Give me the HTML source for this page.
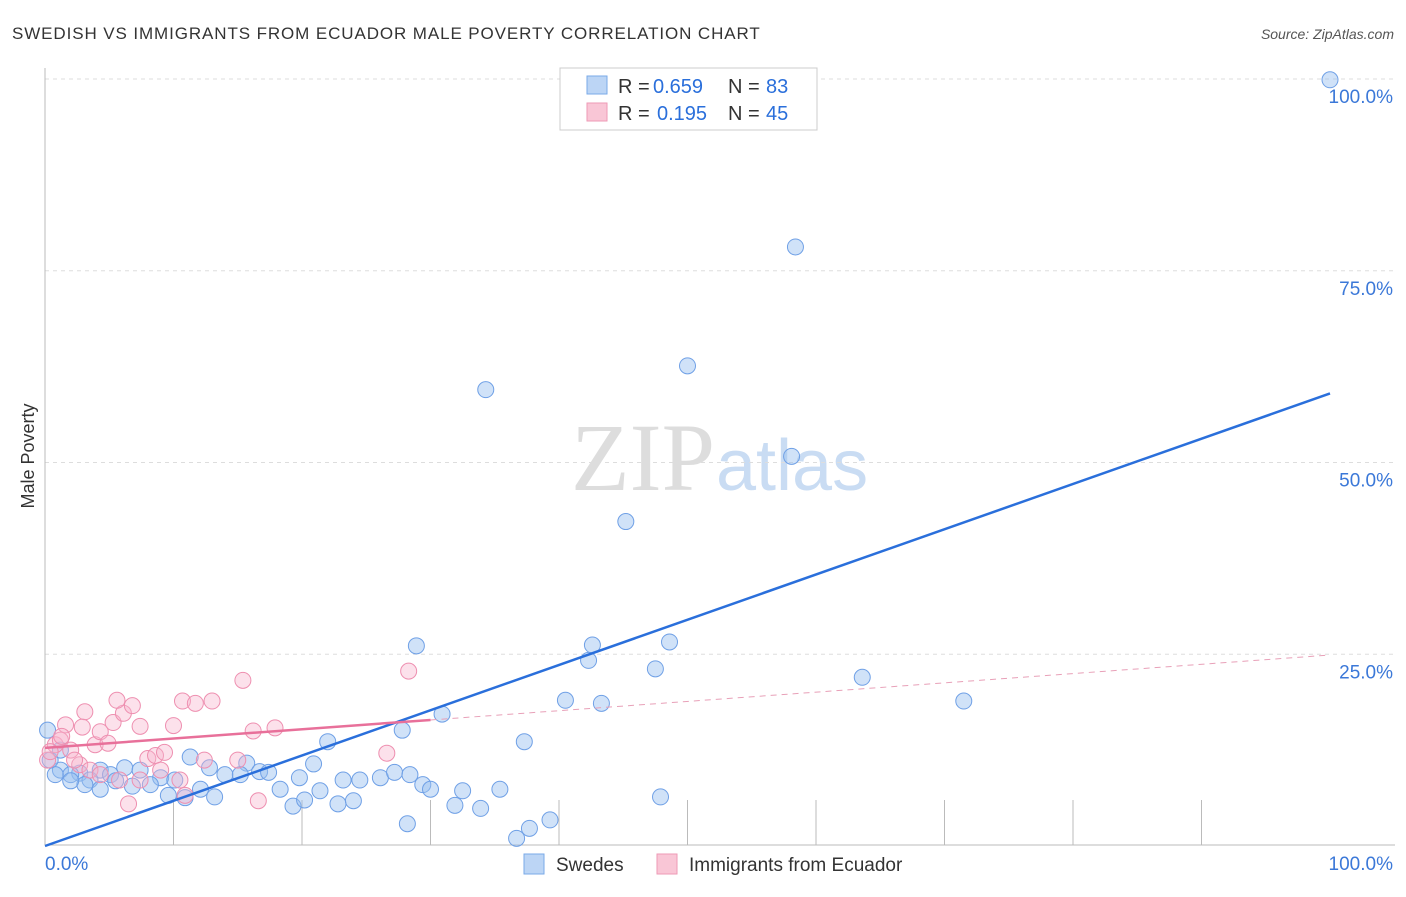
<!DOCTYPE html>
<html><head><meta charset="utf-8"><style>
body{margin:0;background:#fff;font-family:"Liberation Sans",sans-serif;}
</style></head><body>
<svg width="1406" height="892" xmlns="http://www.w3.org/2000/svg" font-family="Liberation Sans, sans-serif">
<text x="12" y="39" font-size="17" letter-spacing="0.9" fill="#333">SWEDISH VS IMMIGRANTS FROM ECUADOR MALE POVERTY CORRELATION CHART</text>
<text x="1394" y="39" font-size="14" fill="#555" text-anchor="end" font-style="italic">Source: ZipAtlas.com</text>
<text x="715" y="490" font-size="96" fill="#ddd" text-anchor="end" font-family="Liberation Serif, serif">ZIP</text>
<text x="716" y="490" font-size="72" fill="#c9dcf3">atlas</text>
<g id="grid"></g>
<line x1="45" y1="845" x2="1395" y2="845" stroke="#bbb"/>
<line x1="45" y1="68" x2="45" y2="845" stroke="#bbb"/>
<text transform="translate(34,456) rotate(-90)" font-size="18" fill="#333" text-anchor="middle">Male Poverty</text>
<text x="45" y="870" font-size="19" fill="#3b78d8">0.0%</text>
<text x="1393" y="870" font-size="19" fill="#3b78d8" text-anchor="end">100.0%</text>
<g id="pts"></g>
<g id="lines"></g>
<g font-size="20">
<rect x="560" y="68" width="257" height="62" fill="#fff" stroke="#ccc"/>
<rect x="587" y="76" width="20" height="18" fill="#bcd5f5" stroke="#7aaae8"/>
<rect x="587" y="103" width="20" height="18" fill="#f9c6d6" stroke="#ee9ab6"/>
<text x="618" y="93" fill="#333">R =</text><text x="653" y="93" fill="#2a6fdb">0.659</text>
<text x="728" y="93" fill="#333">N =</text><text x="766" y="93" fill="#2a6fdb">83</text>
<text x="618" y="120" fill="#333">R =</text><text x="657" y="120" fill="#2a6fdb">0.195</text>
<text x="728" y="120" fill="#333">N =</text><text x="766" y="120" fill="#2a6fdb">45</text>
</g>
<g>
<rect x="524" y="854" width="20" height="20" fill="#bcd5f5" stroke="#7aaae8"/>
<text x="556" y="871" font-size="19" fill="#333">Swedes</text>
<rect x="657" y="854" width="20" height="20" fill="#f9c6d6" stroke="#ee9ab6"/>
<text x="689" y="871" font-size="19" fill="#333">Immigrants from Ecuador</text>
</g>
</svg>
<script>
const yTicks=[25,50,75,100];
const xTicks=[0,10,20,30,40,50,60,70,80,90,100];
const blueX=[100,58.4,50,34.3,58.1,45.2,28.9,42.6,48.6,42.3,47.5,63.6,71.5,40.5,43.3,30.9,27.8,37.3,22,11.3,15.7,20.9,6.2,4.3,2.7,1.2,2,3.5,5.1,7.4,9,10.1,12.8,14,15.2,16.7,17.4,19.8,23.2,24.5,26.1,27.2,28.4,29.4,30,32.5,35.4,31.9,33.9,39.3,37.7,36.7,28.2,47.9,18.3,19.3,20.2,21.4,22.8,24,12.1,13.2,10.9,9.6,8.2,6.8,5.5,4.3,3.1,2,0.8,0.4,1.2,0.2];
const blueY=[99.9,78.1,62.6,59.5,50.8,42.3,26.1,26.2,26.6,24.2,23.1,22,18.9,19,18.6,17.2,15.1,13.6,13.6,11.6,10.8,10.7,10.2,9.9,9.5,9.9,9.3,8.6,9.3,9.9,8.9,8.6,10.2,9.3,9.3,9.7,9.6,8.9,8.6,8.6,8.9,9.6,9.3,8,7.4,7.2,7.4,5.3,4.9,3.4,2.3,1,2.9,6.4,7.4,5.2,6,7.2,5.5,5.9,7.4,6.4,6.3,6.6,8,7.8,8.5,7.4,8,8.5,9.3,11.2,12.5,15.1];
const pinkX=[0.2,0.8,1.2,2,1.6,3.1,2.9,3.9,4.3,4.9,5.3,6.1,5.6,6.8,7.4,8,8.6,9.3,10,10.7,11.7,13,15.4,16.2,17.9,15,12.4,10.5,9,7.4,6.5,16.6,10.9,26.6,28.3,2.7,3.5,2.3,4.3,5.8,1.3,0.4];
const pinkY=[11.2,13.2,13.8,12.5,15.8,17.5,15.5,13.2,14.9,13.4,16.1,17.3,19,18.3,15.6,11.4,11.8,12.2,15.7,18.9,18.6,18.9,21.6,15,15.4,11.2,11.2,8.6,9.9,8.6,5.5,5.9,6.6,12.1,22.8,10.6,9.9,11.2,9.3,8.6,14.3,12.3];
const blueFit=[0,59];
const pinkFit=[12.8,24.9];
const X=v=>45+v*12.85, Y=v=>846-v*7.67;
const NS="http://www.w3.org/2000/svg";
const grid=document.getElementById('grid');
yTicks.forEach(t=>{
 const l=document.createElementNS(NS,'line');
 
 
 l.setAttribute('x1',45);l.setAttribute('x2',1395);l.setAttribute('y1',Y(t));l.setAttribute('y2',Y(t));
 l.setAttribute('stroke','#ddd');l.setAttribute('stroke-dasharray','4,4');grid.appendChild(l);
 const tx=document.createElementNS(NS,'text');
 
 
 tx.setAttribute('x',1393);tx.setAttribute('y',Y(t)+24);tx.setAttribute('text-anchor','end');
 tx.setAttribute('font-size','19');tx.setAttribute('fill','#3b78d8');tx.textContent=t.toFixed(1)+'%';grid.appendChild(tx);
});
xTicks.forEach(t=>{
 const l=document.createElementNS(NS,'line');
 
 
 l.setAttribute('x1',X(t));l.setAttribute('x2',X(t));l.setAttribute('y1',845);l.setAttribute('y2',(t==0||t==100)?845:800);
 l.setAttribute('stroke','#bbb');grid.appendChild(l);
});
const pts=document.getElementById('pts');
function dot(x,y,fill,stroke,name){
 const c=document.createElementNS(NS,'circle');
 
 
 c.setAttribute('cx',X(x));c.setAttribute('cy',Y(y));c.setAttribute('r',8);
 c.setAttribute('fill',fill);c.setAttribute('stroke',stroke);c.setAttribute('stroke-width','1');pts.appendChild(c);
}
blueX.forEach((x,i)=>dot(x,blueY[i],'rgba(150,190,240,0.45)','#6fa0e6','swedes-point'));
pinkX.forEach((x,i)=>dot(x,pinkY[i],'rgba(248,180,205,0.4)','#ee8fb0','ecuador-point'));
const lines=document.getElementById('lines');
function ln(x1,y1,x2,y2,col,w,dash,name){
 const l=document.createElementNS(NS,'line');
 
 
 l.setAttribute('x1',X(x1));l.setAttribute('y1',Y(y1));l.setAttribute('x2',X(x2));l.setAttribute('y2',Y(y2));
 l.setAttribute('stroke',col);l.setAttribute('stroke-width',w);if(dash)l.setAttribute('stroke-dasharray',dash);lines.appendChild(l);
}
ln(0,blueFit[0],100,blueFit[1],'#2a6fdb',2.5,null,'swedes-trendline');
const pAt=x=>pinkFit[0]+(pinkFit[1]-pinkFit[0])*x/100;
ln(0,pAt(0),30,pAt(30),'#e8709a',2.5,null,'ecuador-trendline');
ln(30,pAt(30),100,pAt(100),'#e8a0b8',1,'6,5','ecuador-trendline-extension');
</script>
</body></html>
